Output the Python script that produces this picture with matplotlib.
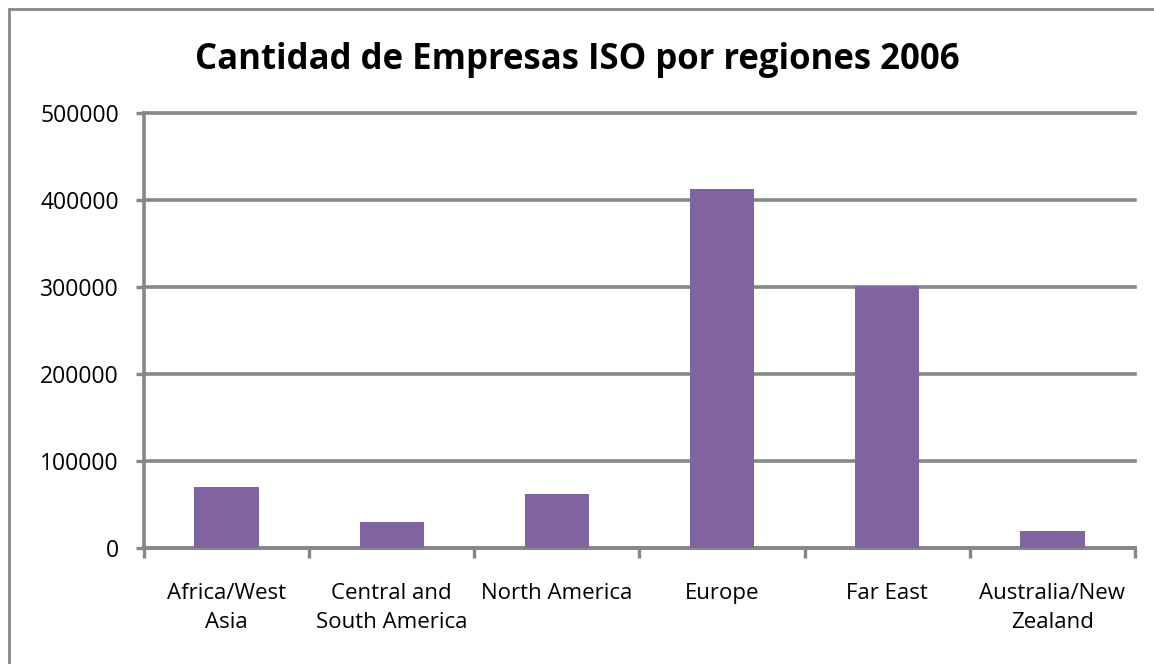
import matplotlib.pyplot as plt
from matplotlib.patches import Rectangle

plt.rcParams["font.family"] = ["Open Sans", "DejaVu Sans"]

regions = ["Africa/West\nAsia", "Central and\nSouth America", "North America",
           "Europe", "Far East", "Australia/New\nZealand"]
companies = [70500, 29500, 61700, 412600, 301200, 19900]
yticks = [0, 100000, 200000, 300000, 400000, 500000]

bar_color = "#8064A2"
axis_color = "#878787"

fig = plt.figure(figsize=(11.54, 6.64), dpi=100)
ax = fig.add_axes([0.1248, 0.1747, 0.8587, 0.6551])

x = list(range(len(regions)))
ax.bar(x, companies, width=0.39, color=bar_color, zorder=3)

ax.set_xlim(-0.5, len(regions) - 0.5)
ax.set_ylim(0, 500000)
ax.set_yticks(yticks)
ax.set_yticklabels([str(v) for v in yticks], fontsize=16.5)
ax.yaxis.grid(True, color=axis_color, lw=2.6, zorder=0)
for gl in ax.get_ygridlines():
    gl.set_clip_on(False)
ax.set_axisbelow(True)

ax.set_xticks(x)
ax.set_xticklabels(regions, fontsize=16, linespacing=1.5)
ax.tick_params(axis="x", length=0, pad=25)
ax.set_xticks([i - 0.5 for i in range(len(regions) + 1)], minor=True)
ax.tick_params(axis="x", which="minor", length=7, width=2.4, color=axis_color)
ax.tick_params(axis="y", length=6, width=2.4, color=axis_color, pad=12)

for side in ["top", "right"]:
    ax.spines[side].set_visible(False)
for side in ["left", "bottom"]:
    ax.spines[side].set_color(axis_color)
    ax.spines[side].set_linewidth(2.6)

fig.text(0.5, 0.91, "Cantidad de Empresas ISO por regiones 2006",
         ha="center", va="center", fontsize=25, fontweight="bold")

fig.patches.append(Rectangle((9 / 1154, -0.1), 1.2, 1.1 - 9 / 664,
                             transform=fig.transFigure, fill=False,
                             edgecolor=axis_color, lw=2))

plt.savefig("out.png", dpi=100)
